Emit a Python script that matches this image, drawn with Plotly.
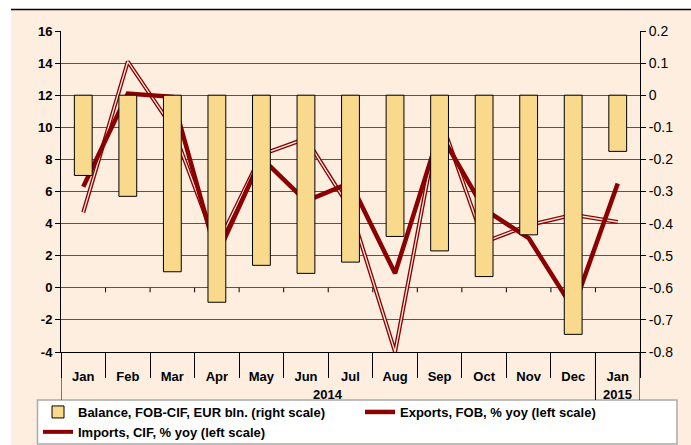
import plotly.graph_objects as go

years = ["2014"] * 12 + ["2015"]
months = ["Jan", "Feb", "Mar", "Apr", "May", "Jun", "Jul", "Aug", "Sep", "Oct", "Nov", "Dec", "Jan"]
balance = [-0.25, -0.315, -0.55, -0.645, -0.53, -0.555, -0.52, -0.44, -0.485, -0.565, -0.435, -0.745, -0.175]
exports = [6.3, 12.1, 11.9, 2.0, 8.1, 5.4, 6.55, 0.9, 9.7, 4.9, 3.1, -1.3, 6.5]
imports = [4.7, 14.1, 10.0, 2.6, 8.3, 9.3, 4.9, -4.0, 10.7, 2.85, 3.9, 4.55, 4.1]
left_ticks = [-4, -2, 0, 2, 4, 6, 8, 10, 12, 14, 16]
left_labels = ["-4", "-2", "0", "2", "4", "6", "8", "10", "12", "14", "16"]
right_ticks = [-0.8, -0.7, -0.6, -0.5, -0.4, -0.3, -0.2, -0.1, 0, 0.1, 0.2]
right_labels = ["-0.8", "-0.7", "-0.6", "-0.5", "-0.4", "-0.3", "-0.2", "-0.1", "0", "0.1", "0.2"]

PEACH = "#FDEEE0"
DARKRED = "#8B0000"
idx = list(range(len(months)))

fig = go.Figure()
fig.add_trace(go.Bar(x=idx, y=balance, yaxis="y2", name="Balance, FOB-CIF, EUR bln. (right scale)",
                     marker=dict(color="#F9D98B", line=dict(color="black", width=1)),
                     legend="legend", legendrank=1))
fig.add_trace(go.Scatter(x=idx, y=imports, mode="lines", name="Imports, CIF, % yoy (left scale)",
                         line=dict(color=DARKRED, width=4), legend="legend", legendrank=2))
fig.add_trace(go.Scatter(x=idx, y=imports, mode="lines", showlegend=False,
                         line=dict(color=PEACH, width=1.3), hoverinfo="skip"))
fig.add_trace(go.Scatter(x=idx, y=exports, mode="lines", name="Exports, FOB, % yoy (left scale)",
                         line=dict(color=DARKRED, width=4.5), legend="legend2"))

L, R, T, B = 61, 51, 31, 93
W, H = 691, 445
pw, ph = W - L - R, H - T - B
def px(v):
    return (v - L) / pw
def py(v):
    return (H - B - v) / ph

shapes = [
    dict(type="rect", xref="paper", yref="paper", x0=px(11), x1=px(700), y0=py(460), y1=py(9.5),
         fillcolor=PEACH, line=dict(width=0), layer="below"),
    dict(type="line", xref="paper", yref="paper", x0=px(11), x1=px(700), y0=py(9.5), y1=py(9.5),
         line=dict(color="black", width=1.5)),
    dict(type="rect", xref="paper", yref="paper", x0=px(37.5), x1=px(677), y0=py(444), y1=py(400),
         fillcolor="white", line=dict(color="#AAAAAA", width=1.5), layer="below"),
]

# year groups: dividers at group edges, labels centred on each group
groups = []
for i, yv in enumerate(years):
    if not groups or groups[-1][0] != yv:
        groups.append([yv, i, i])
    else:
        groups[-1][2] = i
annotations = []
edges = set()
for yv, a, b in groups:
    edges.add(a - 0.5)
    edges.add(b + 0.5)
    annotations.append(dict(x=(a + b) / 2, xref="x", y=py(395), yref="paper", text=yv,
                            showarrow=False, font=dict(size=13, weight="bold"),
                            xanchor="center", yanchor="middle"))
for e in sorted(edges):
    shapes.append(dict(type="line", xref="x", yref="paper", x0=e, x1=e, y0=0, y1=py(400),
                       line=dict(color="black", width=1)))

boundaries = [i - 0.5 for i in range(len(months) + 1)]
# small category ticks along the zero line of the left axis
for bnd in boundaries[1:-1]:
    shapes.append(dict(type="line", xref="x", yref="y", x0=bnd, x1=bnd, y0=0, y1=-0.28,
                       line=dict(color="black", width=1)))

legend_font = dict(family="Liberation Sans, Arial", size=13, color="black", weight="bold")
fig.update_layout(
    width=W, height=H,
    margin=dict(l=L, r=R, t=T, b=B, autoexpand=False),
    paper_bgcolor="white", plot_bgcolor="rgba(0,0,0,0)",
    font=dict(family="Liberation Sans, Arial", color="black", size=13),
    bargap=0.6,
    showlegend=True,
    legend=dict(orientation="v", xref="container", yref="container",
                x=38 / W, y=(H - 397) / H, xanchor="left", yanchor="top",
                bgcolor="rgba(0,0,0,0)", borderwidth=0, font=legend_font,
                traceorder="normal", tracegroupgap=0, itemwidth=30),
    legend2=dict(orientation="v", xref="container", yref="container",
                 x=360 / W, y=(H - 397) / H, xanchor="left", yanchor="top",
                 bgcolor="rgba(0,0,0,0)", borderwidth=0, font=legend_font, itemwidth=30),
    xaxis=dict(range=[-0.5, len(months) - 0.5], tickvals=idx, ticktext=months,
               showline=True, linecolor="black", linewidth=1, ticks="",
               minor=dict(tickvals=boundaries, ticks="outside", ticklen=25, tickcolor="black",
                          tickwidth=1, showgrid=False),
               tickfont=dict(size=13, weight="bold"), showgrid=False, zeroline=False,
               automargin=False, ticklabelstandoff=12),
    yaxis=dict(range=[-4, 16], tickvals=left_ticks, ticktext=left_labels,
               showgrid=True, gridcolor="#555555", gridwidth=1,
               showline=True, linecolor="black", linewidth=1, ticks="outside", ticklen=5,
               tickcolor="black", zeroline=False, tickfont=dict(size=13, weight="bold"),
               automargin=False),
    yaxis2=dict(range=[-0.8, 0.2], tickvals=right_ticks, ticktext=right_labels,
                overlaying="y", side="right", showgrid=False,
                showline=True, linecolor="black", linewidth=1, ticks="outside", ticklen=5,
                tickcolor="black", zeroline=False, tickfont=dict(size=14),
                automargin=False),
    shapes=shapes,
    annotations=annotations,
)

fig.write_html("out.html")
